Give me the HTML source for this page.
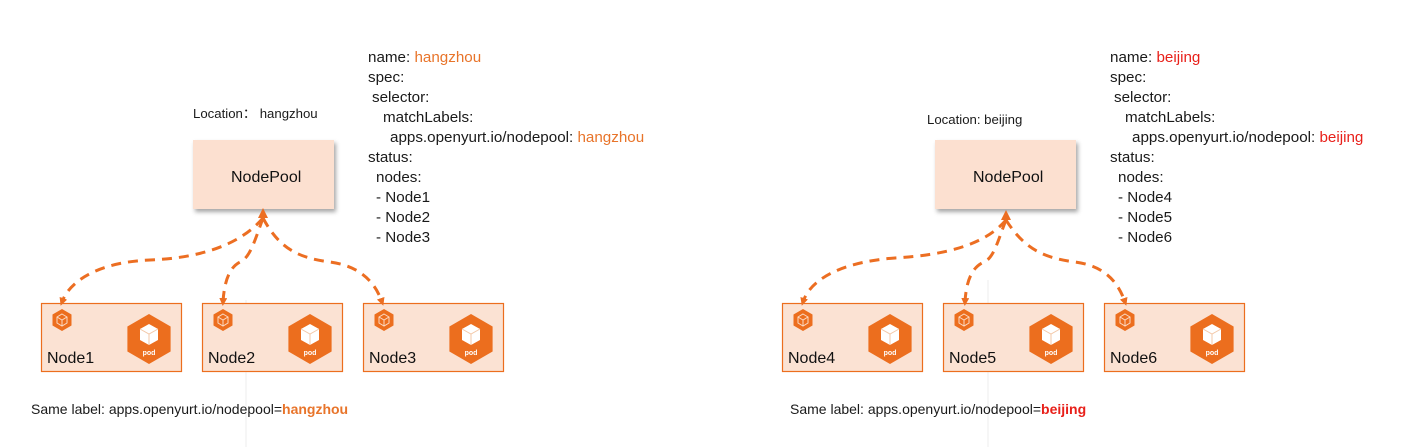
<!DOCTYPE html>
<html><head><meta charset="utf-8"><style>
html,body{margin:0;padding:0;background:#fff;}
svg{display:block;}
text{font-family:"Liberation Sans","DejaVu Sans",sans-serif;}
.y{font-size:15.2px;fill:#1a1a1a;}
.o{fill:#E8742A;}
.r{fill:#E8201A;}
.s{font-size:13.2px;fill:#1a1a1a;}
.s2{font-size:14px;fill:#1a1a1a;}
.nl{font-size:16px;fill:#111;}
.np{font-size:16px;fill:#111;}
.d{fill:none;stroke:#EC6E22;stroke-width:3;stroke-dasharray:10 7;}
</style></head><body>
<svg width="1410" height="447" viewBox="0 0 1410 447" xmlns="http://www.w3.org/2000/svg">
<defs>
<marker id="a" markerWidth="8" markerHeight="8" refX="4" refY="4" orient="auto" markerUnits="userSpaceOnUse">
<path d="M0,0 L8,4 L0,8 Z" fill="#EC6E22"/>
</marker>
<filter id="sh" x="-10%" y="-10%" width="130%" height="130%"><feDropShadow dx="2" dy="3" stdDeviation="2" flood-color="#000" flood-opacity="0.35"/></filter>
<g id="pod">
<polygon points="0,-25 21.6,-12.5 21.6,12.5 0,25 -21.6,12.5 -21.6,-12.5" fill="#EC6E1E"/>
<polygon points="0,-15 9,-10 9,1 0,6 -9,1 -9,-10" fill="#fff"/>
<polyline points="-9,-10 0,-5 9,-10" fill="none" stroke="#f3c8a8" stroke-width="1"/>
<line x1="0" y1="-5" x2="0" y2="6" stroke="#f3c8a8" stroke-width="1"/>
<text x="0" y="16" font-size="7" fill="#fff" text-anchor="middle" font-weight="bold">pod</text>
</g>
<g id="ni">
<polygon points="0,-11 9.5,-5.5 9.5,5.5 0,11 -9.5,5.5 -9.5,-5.5" fill="#EC6E1E"/>
<polygon points="0,-6 5,-3 5,3 0,6 -5,3 -5,-3" fill="none" stroke="#fbd9c2" stroke-width="1"/>
<path d="M-5,-3 L0,0 L5,-3 M0,0 L0,6" fill="none" stroke="#fbd9c2" stroke-width="1"/>
</g>
<g id="node">
<rect x="0.5" y="0.5" width="140" height="68" fill="#FBE2D3" stroke="#EC6E1E" stroke-width="1.2"/>
<use href="#ni" x="21" y="17"/>
<use href="#pod" x="108" y="36"/>
</g>
</defs>

<line x1="246" y1="300" x2="246" y2="447" stroke="#eee" stroke-width="1"/>
<line x1="988" y1="280" x2="988" y2="447" stroke="#eee" stroke-width="1"/>

<!-- LEFT -->
<text x="193" y="118" class="s">Location：  hangzhou</text>
<rect x="193" y="140" width="141" height="69" fill="#FCE0D0" filter="url(#sh)"/>
<text x="231" y="182" class="np">NodePool</text>

<g class="y">
<text x="368" y="62">name: <tspan class="o">hangzhou</tspan></text>
<text x="368" y="82">spec:</text>
<text x="372" y="102">selector:</text>
<text x="383" y="122">matchLabels:</text>
<text x="390" y="142">apps.openyurt.io/nodepool: <tspan class="o">hangzhou</tspan></text>
<text x="368" y="162">status:</text>
<text x="376" y="182">nodes:</text>
<text x="376" y="202">- Node1</text>
<text x="376" y="222">- Node2</text>
<text x="376" y="242">- Node3</text>
</g>

<use href="#node" x="41" y="303"/>
<use href="#node" x="202" y="303"/>
<use href="#node" x="363" y="303"/>
<text x="47" y="363" class="nl">Node1</text>
<text x="208" y="363" class="nl">Node2</text>
<text x="369" y="363" class="nl">Node3</text>

<path class="d" d="M263,218 C240,245 200,258 150,260 C100,262 70,280 62,302" marker-end="url(#a)"/>
<path class="d" d="M263,218 C255,240 250,258 240,262 C228,268 224,285 223,302" marker-end="url(#a)"/>
<path class="d" d="M263,218 C280,250 300,258 330,262 C360,266 375,282 382,302" marker-end="url(#a)"/>
<polygon points="263,208 258,218 268,218" fill="#EC6E22"/>

<text x="31" y="414" class="s2">Same label: apps.openyurt.io/nodepool=<tspan class="o" font-weight="bold">hangzhou</tspan></text>

<!-- RIGHT -->
<text x="927" y="124" class="s">Location: beijing</text>
<rect x="935" y="140" width="141" height="69" fill="#FCE0D0" filter="url(#sh)"/>
<text x="973" y="182" class="np">NodePool</text>

<g class="y">
<text x="1110" y="62">name: <tspan class="r">beijing</tspan></text>
<text x="1110" y="82">spec:</text>
<text x="1114" y="102">selector:</text>
<text x="1125" y="122">matchLabels:</text>
<text x="1132" y="142">apps.openyurt.io/nodepool: <tspan class="r">beijing</tspan></text>
<text x="1110" y="162">status:</text>
<text x="1118" y="182">nodes:</text>
<text x="1118" y="202">- Node4</text>
<text x="1118" y="222">- Node5</text>
<text x="1118" y="242">- Node6</text>
</g>

<use href="#node" x="782" y="303"/>
<use href="#node" x="943" y="303"/>
<use href="#node" x="1104" y="303"/>
<text x="788" y="363" class="nl">Node4</text>
<text x="949" y="363" class="nl">Node5</text>
<text x="1110" y="363" class="nl">Node6</text>

<path class="d" d="M1006,220 C985,245 945,255 895,258 C840,262 810,280 803,302" marker-end="url(#a)"/>
<path class="d" d="M1006,220 C998,240 994,258 984,262 C970,268 966,285 965,302" marker-end="url(#a)"/>
<path class="d" d="M1006,220 C1025,250 1045,258 1075,262 C1105,266 1118,282 1125,302" marker-end="url(#a)"/>
<polygon points="1006,210 1001,220 1011,220" fill="#EC6E22"/>

<text x="790" y="414" class="s2">Same label: apps.openyurt.io/nodepool=<tspan class="r" font-weight="bold">beijing</tspan></text>
</svg>
</body></html>
